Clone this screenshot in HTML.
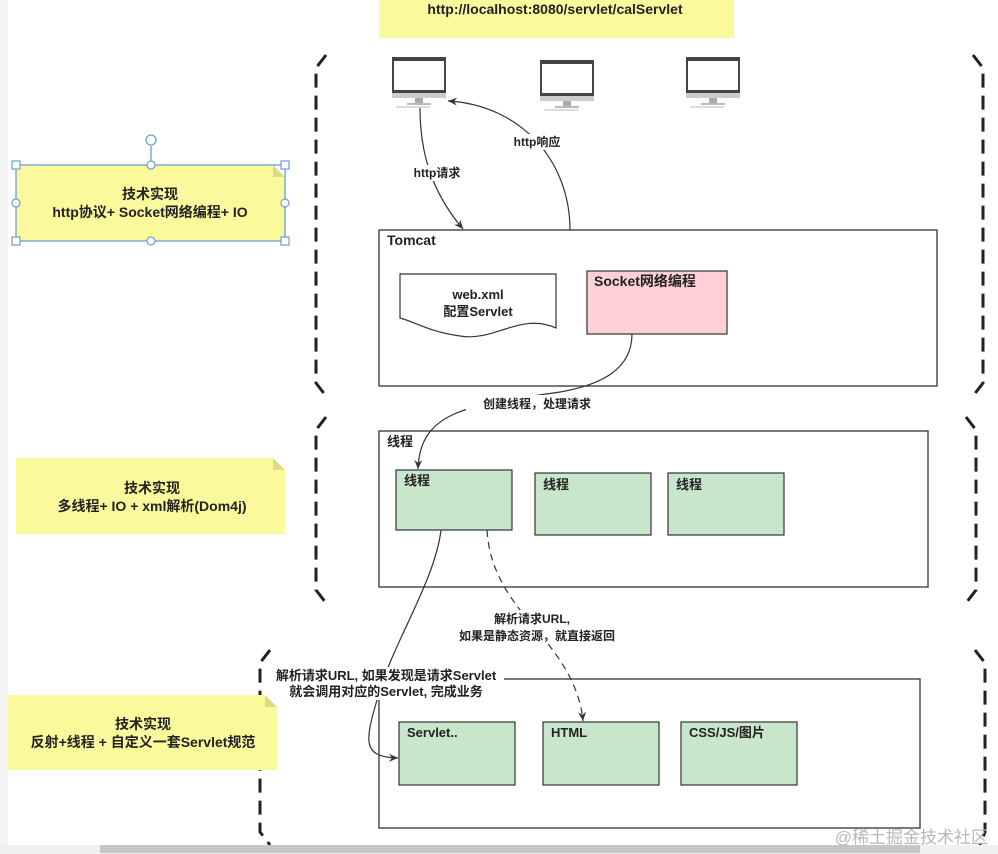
<!DOCTYPE html>
<html><head><meta charset="utf-8"><style>
html,body{margin:0;padding:0;background:#fff;}
svg{display:block;}
text{font-family:"Liberation Sans","Noto Sans CJK SC",sans-serif;font-weight:bold;fill:#222;}
</style></head><body>
<svg width="998" height="854" viewBox="0 0 998 854" xmlns="http://www.w3.org/2000/svg">
<defs>
<marker id="ah" markerWidth="10" markerHeight="10" refX="9" refY="5" orient="auto" markerUnits="userSpaceOnUse">
<path d="M0,1 L9,5 L0,9 L3,5 Z" fill="#333"/></marker>
<g id="mon">
<rect x="0" y="0" width="54" height="36" fill="#444"/>
<rect x="2" y="4" width="50" height="29" fill="#fff"/>
<rect x="0" y="36" width="54" height="5" fill="#ccc"/>
<rect x="23" y="41" width="8" height="6" fill="#aaa"/>
<rect x="15" y="46" width="24" height="2" fill="#bbb"/>
<rect x="4" y="49" width="34" height="2" fill="#ddd"/>
</g>
</defs>
<rect width="998" height="854" fill="#fff"/>
<rect x="0" y="0" width="8" height="854" fill="#f4f4f4"/>

<rect x="379" y="0" width="355" height="38" fill="#fafa9c"/>
<text x="555" y="14" font-size="14" text-anchor="middle">http://localhost:8080/servlet/calServlet</text>

<g fill="none" stroke="#222" stroke-width="3" stroke-dasharray="14,8">
<path d="M326,55 L316,68 L316,383 L326,396"/>
<path d="M973,55 L983,68 L983,383 L973,396"/>
<path d="M326,417 L316,430 L316,590 L326,603"/>
<path d="M966,417 L976,430 L976,590 L966,603"/>
<path d="M270,650 L260,663 L260,832 L270,845"/>
<path d="M975,650 L985,663 L985,832 L980,845"/>
</g>

<use href="#mon" x="392" y="57"/>
<use href="#mon" x="540" y="60"/>
<use href="#mon" x="686" y="57"/>

<rect x="379" y="230" width="558" height="156" fill="#fff" stroke="#333" stroke-width="1.3"/>
<text x="387" y="245" font-size="14">Tomcat</text>
<path d="M400,274 L556,274 L556,328 C520,312 495,342 460,336 C430,332 415,322 400,318 Z" fill="#fff" stroke="#333" stroke-width="1.2"/>
<text x="478" y="299" font-size="13" text-anchor="middle">web.xml</text>
<text x="478" y="316" font-size="13" text-anchor="middle">配置Servlet</text>
<rect x="587" y="271" width="140" height="63" fill="#ffd0d6" stroke="#333" stroke-width="1.2"/>
<text x="594" y="286" font-size="14">Socket网络编程</text>

<path d="M420,108 C420,150 430,190 463,229" fill="none" stroke="#333" stroke-width="1.2" marker-end="url(#ah)"/>
<path d="M570,230 C570,160 520,105 448,101" fill="none" stroke="#333" stroke-width="1.2" marker-end="url(#ah)"/>
<rect x="410" y="165" width="56" height="16" fill="#fff"/>
<text x="437" y="177" font-size="12" text-anchor="middle">http请求</text>
<rect x="508" y="134" width="58" height="16" fill="#fff"/>
<text x="537" y="146" font-size="12" text-anchor="middle">http响应</text>

<rect x="379" y="431" width="549" height="156" fill="#fff" stroke="#333" stroke-width="1.3"/>
<text x="387" y="446" font-size="13">线程</text>
<rect x="396" y="470" width="116" height="60" fill="#c8e6c9" stroke="#333" stroke-width="1.2"/>
<text x="404" y="485" font-size="13">线程</text>
<rect x="535" y="473" width="116" height="62" fill="#c8e6c9" stroke="#333" stroke-width="1.2"/>
<text x="543" y="489" font-size="13">线程</text>
<rect x="668" y="473" width="116" height="62" fill="#c8e6c9" stroke="#333" stroke-width="1.2"/>
<text x="676" y="489" font-size="13">线程</text>

<path d="M632,334 C632,370 600,385 560,392 C470,405 420,410 418,469" fill="none" stroke="#333" stroke-width="1.2" marker-end="url(#ah)"/>
<rect x="466" y="395" width="142" height="17" fill="#fff"/>
<text x="537" y="408" font-size="12" text-anchor="middle">创建线程，处理请求</text>

<rect x="379" y="679" width="541" height="149" fill="#fff" stroke="#333" stroke-width="1.3"/>
<rect x="399" y="722" width="116" height="63" fill="#c8e6c9" stroke="#333" stroke-width="1.2"/>
<text x="407" y="737" font-size="13">Servlet..</text>
<rect x="543" y="722" width="116" height="63" fill="#c8e6c9" stroke="#333" stroke-width="1.2"/>
<text x="551" y="737" font-size="13">HTML</text>
<rect x="681" y="722" width="116" height="63" fill="#c8e6c9" stroke="#333" stroke-width="1.2"/>
<text x="689" y="737" font-size="13">CSS/JS/图片</text>

<path d="M441,530 C435,580 395,640 380,690 C365,740 360,757 398,758" fill="none" stroke="#333" stroke-width="1.2" marker-end="url(#ah)"/>
<path d="M487,530 C490,580 520,610 545,640 C565,665 580,690 583,721" fill="none" stroke="#333" stroke-width="1.2" stroke-dasharray="7,5" marker-end="url(#ah)"/>
<rect x="464" y="610" width="150" height="34" fill="#fff"/>
<text x="532" y="623" font-size="12" text-anchor="middle">解析请求URL,</text>
<text x="537" y="640" font-size="12" text-anchor="middle">如果是静态资源，就直接返回</text>
<rect x="268" y="667" width="236" height="33" fill="#fff"/>
<text x="386" y="680" font-size="13" text-anchor="middle">解析请求URL, 如果发现是请求Servlet</text>
<text x="386" y="696" font-size="13" text-anchor="middle">就会调用对应的Servlet, 完成业务</text>

<g>
<path d="M16,165 L273,165 L285,177 L285,241 L16,241 Z" fill="#fafa9c"/>
<path d="M273,165 L273,177 L285,177 Z" fill="#ddd98a"/>
<text x="150" y="199" font-size="14" text-anchor="middle">技术实现</text>
<text x="150" y="217" font-size="14" text-anchor="middle">http协议+ Socket网络编程+ IO</text>
<rect x="16" y="165" width="269" height="76" fill="none" stroke="#6a9fd4" stroke-width="1.3"/>
<line x1="151" y1="146" x2="151" y2="165" stroke="#6a9fd4" stroke-width="1.3"/>
<circle cx="151" cy="140" r="5" fill="#fff" stroke="#6a9fd4" stroke-width="1.3"/>
<g fill="#fff" stroke="#6a9fd4" stroke-width="1.2">
<rect x="12" y="161" width="8" height="8"/><rect x="281" y="161" width="8" height="8"/>
<rect x="12" y="237" width="8" height="8"/><rect x="281" y="237" width="8" height="8"/>
<circle cx="151" cy="165" r="4"/><circle cx="151" cy="241" r="4"/>
<circle cx="16" cy="203" r="4"/><circle cx="285" cy="203" r="4"/>
</g>
</g>
<path d="M16,458 L273,458 L285,470 L285,534 L16,534 Z" fill="#fafa9c"/>
<path d="M273,458 L273,470 L285,470 Z" fill="#ddd98a"/>
<text x="152" y="493" font-size="14" text-anchor="middle">技术实现</text>
<text x="152" y="511" font-size="14" text-anchor="middle">多线程+ IO + xml解析(Dom4j)</text>
<path d="M8,695 L265,695 L277,707 L277,770 L8,770 Z" fill="#fafa9c"/>
<path d="M265,695 L265,707 L277,707 Z" fill="#ddd98a"/>
<text x="143" y="729" font-size="14" text-anchor="middle">技术实现</text>
<text x="143" y="747" font-size="14" text-anchor="middle">反射+线程 + 自定义一套Servlet规范</text>

<rect x="0" y="845" width="998" height="9" fill="#f0f0f0"/>
<rect x="100" y="845" width="820" height="8" fill="#c6c6c6"/>
<text x="988" y="843" font-size="17" text-anchor="end" style="font-weight:normal;fill:#b8b8b8">@稀土掘金技术社区</text>
</svg>
</body></html>
